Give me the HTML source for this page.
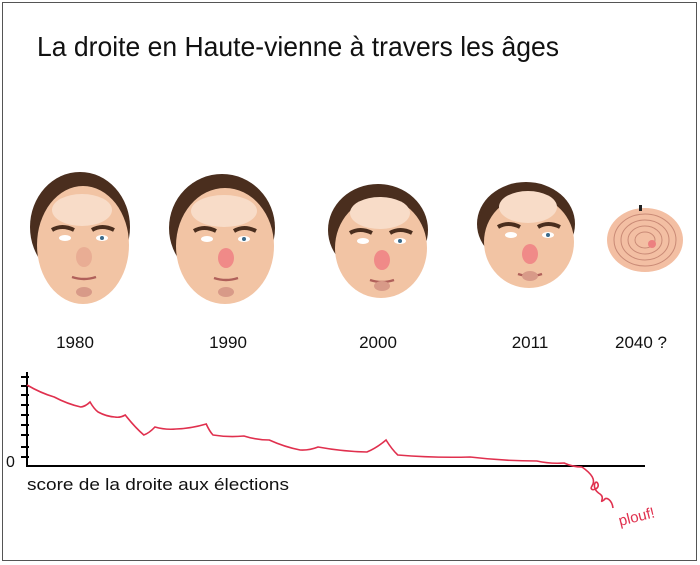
<!DOCTYPE html>
<html><head><meta charset="utf-8">
<style>
html,body{margin:0;padding:0;background:#fff;}
#root{position:relative;width:700px;height:565px;overflow:hidden;font-family:"Liberation Sans",sans-serif;}
</style></head>
<body>
<div id="root">
<svg width="700" height="565" viewBox="0 0 700 565" xmlns="http://www.w3.org/2000/svg">
<rect x="2.5" y="2.5" width="694" height="558" fill="#fff" stroke="#555" stroke-width="1"/>
<text x="37" y="56" font-size="28" fill="#111" font-family="Liberation Sans, sans-serif" textLength="522" lengthAdjust="spacingAndGlyphs">La droite en Haute-vienne à travers les âges</text>
<g id="faces"></g>
<g id="years"></g>
<g id="axes"></g>
<path id="line" fill="none" stroke="#e0304e" stroke-width="1.6"/>
<path d="M582,467 C592,474 596,480 592,486 C588,492 600,490 598,484 C596,478 590,488 600,494 C606,498 598,504 604,500 C606,496 612,500 613,508" fill="none" stroke="#e0304e" stroke-width="1.6"/>
<text x="620" y="526" font-size="15" fill="#e0304e" transform="rotate(-14 620 526)">plouf!</text>
<text x="27" y="490" font-size="17" fill="#111" textLength="262" lengthAdjust="spacingAndGlyphs">score de la droite aux élections</text>
</svg>
</div>
<script>
// chart data
const timePoints = [0, 4.4, 8.7, 10.2, 11.5, 14.2, 15.9, 18.9, 20.7, 24.1, 29.0, 30.1, 35.1, 39.2, 44.2, 47.1, 55.0, 58.1, 60.0, 71.7, 82.5, 86.9, 89.8];
const scores = [81, 69, 59, 64, 54, 49, 51, 31, 39, 37, 42, 31, 30, 26, 16, 19, 14, 26, 11, 9, 5, 3, -1];
const yTicks = [0, 1, 2, 3, 4, 5, 6, 7, 8];
const yearLabels = ["1980", "1990", "2000", "2011", "2040 ?"];

const NS = "http://www.w3.org/2000/svg";
const x0 = 27, x1 = 645, yBase = 466;
function xScale(t){ return x0 + t / 100 * (x1 - x0); }
function yScale(v){ return yBase - v; }

const axes = document.getElementById('axes');
function mk(tag, attrs, parent){ const e=document.createElementNS(NS,tag); for(const k in attrs) e.setAttribute(k,attrs[k]); parent.appendChild(e); return e; }
const ya = mk('line',{x1:x0,y1:372,x2:x0,y2:yBase,stroke:'#000','stroke-width':2},axes);


const xa = mk('line',{x1:x0-1,y1:yBase,x2:x1,y2:yBase,stroke:'#000','stroke-width':2},axes);


const tickYs = [457, 447, 435, 425, 415, 405, 395, 386, 377];
yTicks.forEach((v,i)=>{
  const t = mk('line',{x1:x0-6,y1:tickYs[i],x2:x0+2,y2:tickYs[i],stroke:'#000','stroke-width':2},axes);
  
  
});
const zl = mk('text',{x:6,y:467,'font-size':16,fill:'#111'},axes);
zl.textContent = '0';



let d = '';
timePoints.forEach((t,i)=>{
  const px = xScale(t), py = yScale(scores[i]);
  if(i===0){ d += 'M'+px+','+py; }
  else {
    const pp = xScale(timePoints[i-1]);
    const cx = (pp+px)/2;
    d += ' Q'+cx+','+((yScale(scores[i-1])+py)/2 + 2)+' '+px+','+py;
  }
});
document.getElementById('line').setAttribute('d', d);

const yearXs = [75, 228, 378, 530, 641];
const yg = document.getElementById('years');
yearLabels.forEach((lab,i)=>{
  const t = mk('text',{x:yearXs[i],y:348,'font-size':17,fill:'#111','text-anchor':'middle'},yg);
  t.textContent = lab;
  
  
});

const faces = [
  {cx:80, cy:235, rx:50, ry:65},
  {cx:222, cy:236, rx:53, ry:64},
  {cx:378, cy:238, rx:50, ry:56},
  {cx:526, cy:232, rx:49, ry:52},
];
const fg = document.getElementById('faces');
faces.forEach((f,i)=>{
  const g = mk('g',{},fg);
  
  
  mk('ellipse',{cx:f.cx,cy:f.cy-8,rx:f.rx,ry:f.ry-10,fill:'#4a2e1e'},g);
  mk('ellipse',{cx:f.cx+3,cy:f.cy+10,rx:f.rx-4,ry:f.ry-6,fill:'#f2c4a4'},g);
  mk('ellipse',{cx:f.cx+2,cy:f.cy-25,rx:f.rx-20,ry:16,fill:'#f8dcc8'},g);
  mk('path',{d:`M${f.cx-28},${f.cy-5} q10,-6 22,0 M${f.cx+12},${f.cy-5} q10,-6 22,0`,stroke:'#4a2e1e','stroke-width':4,fill:'none'},g);
  mk('ellipse',{cx:f.cx-15,cy:f.cy+3,rx:6,ry:3,fill:'#fff'},g);
  mk('ellipse',{cx:f.cx+22,cy:f.cy+3,rx:6,ry:3,fill:'#fff'},g);
  mk('circle',{cx:f.cx+22,cy:f.cy+3,r:2,fill:'#3a6a8a'},g);
  mk('ellipse',{cx:f.cx+4,cy:f.cy+22,rx:8,ry:10,fill:i?'#f08a88':'#e9ad94'},g);
  mk('path',{d:`M${f.cx-8},${f.cy+42} q12,4 24,0`,stroke:'#b0605a','stroke-width':2.5,fill:'none'},g);
  mk('ellipse',{cx:f.cx+4,cy:f.cy+f.ry-8,rx:8,ry:5,fill:'#d89a88'},g);
});
const g5 = mk('g',{},fg);


mk('ellipse',{cx:645,cy:240,rx:38,ry:32,fill:'#f3bfa3'},g5);
for(let k=1;k<5;k++) mk('ellipse',{cx:645,cy:240,rx:38-k*7,ry:32-k*6,fill:'none',stroke:'#c98a76','stroke-width':1},g5);
mk('circle',{cx:652,cy:244,r:4,fill:'#ec8080'},g5);
mk('rect',{x:639,y:205,width:3,height:6,fill:'#222'},g5);
</script>
</body></html>
